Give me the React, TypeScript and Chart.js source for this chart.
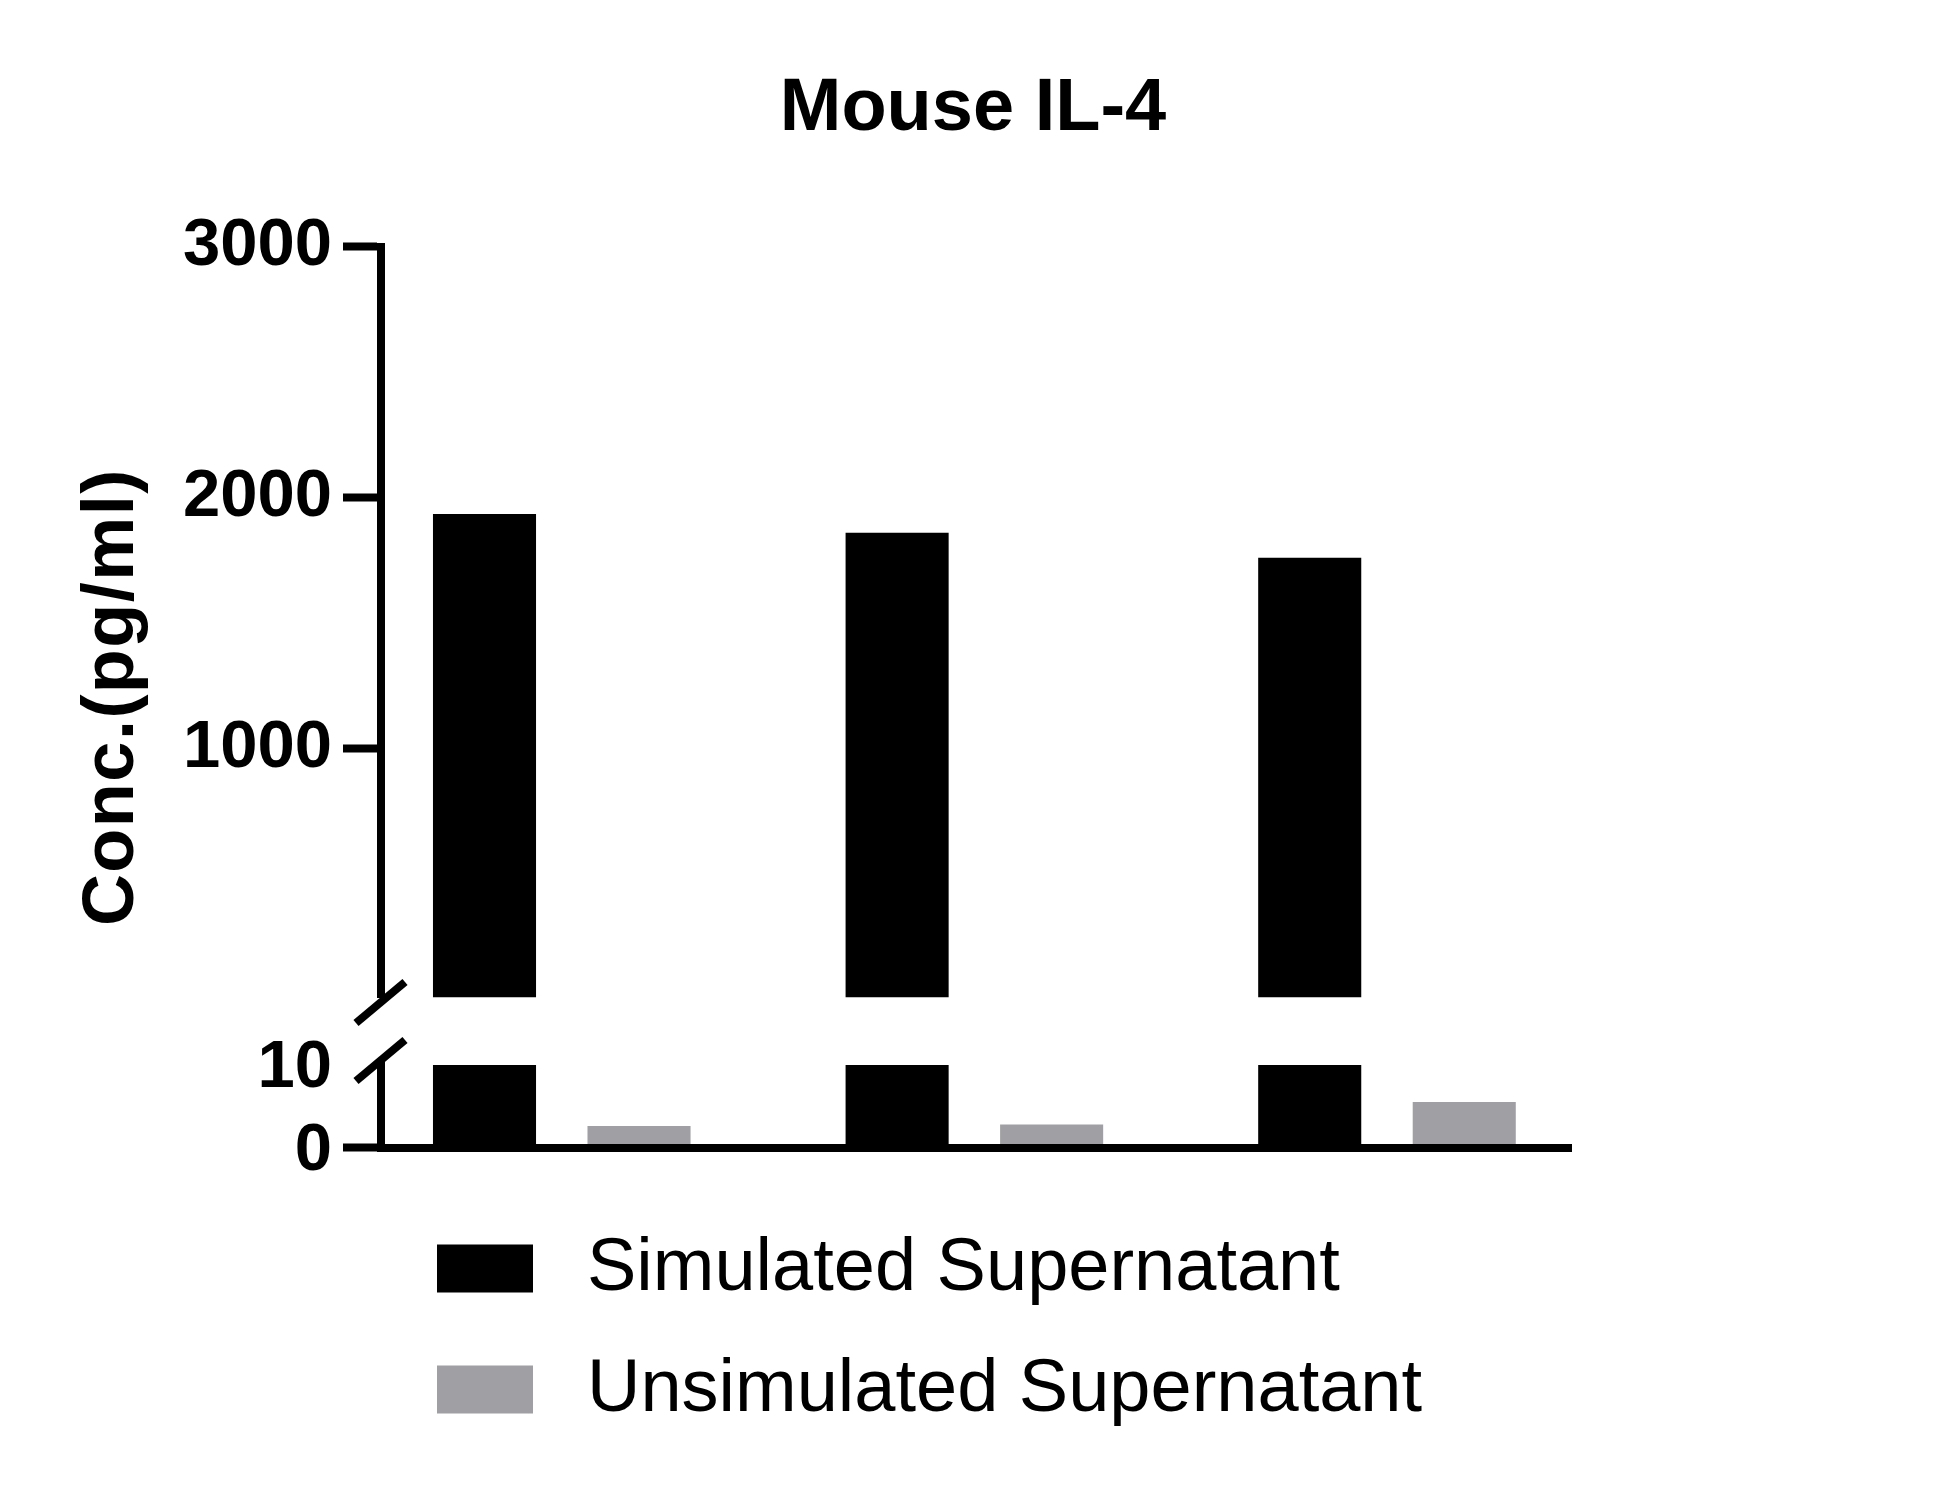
import React, { useEffect, useRef } from 'react';
import { Chart, registerables } from 'chart.js';

Chart.register(...registerables);

const TITLE = 'Mouse IL-4';
const Y_AXIS_TITLE = 'Conc.(pg/ml)';
const CATEGORIES = ['Sample 1', 'Sample 2', 'Sample 3'];
const SERIES = ['Simulated Supernatant', 'Unsimulated Supernatant'];
const SIMULATED = [1936, 1861, 1761];
const UNSIMULATED = [2.6, 2.8, 5.5];
const SERIES_VALUES = [SIMULATED, UNSIMULATED];
const SERIES_COLORS = ['#000000', '#a0a0a4'];
const LOW_SEGMENT = [0, 10];
const HIGH_SEGMENT = [10, 3000];
const LOW_TICKS = [0, 10];
const HIGH_TICKS = [1000, 2000, 3000];

const FONT = '"Liberation Sans", Arial, Helvetica, sans-serif';

const brokenAxisPlugin = {
  id: 'brokenAxis',
  afterDraw(chart: any, _args: any, opts: any) {
    const { ctx, chartArea } = chart;
    const hi = chart.scales.yHigh;
    const lo = chart.scales.yLow;
    ctx.save();
    // break marks
    ctx.strokeStyle = '#000';
    ctx.lineWidth = opts.breakWidth;
    ctx.lineCap = 'butt';
    const centers = [hi.bottom + opts.breakOffsetHigh, lo.top - opts.breakOffsetLow];
    for (const cy of centers) {
      const cx = chartArea.left - 0.5;
      ctx.beginPath();
      ctx.moveTo(cx - opts.breakDx, cy + opts.breakDy);
      ctx.lineTo(cx + opts.breakDx, cy - opts.breakDy);
      ctx.stroke();
    }
    // y axis title centred on the whole broken axis
    ctx.fillStyle = '#000';
    ctx.font = `bold ${opts.yTitleSize}px ${FONT}`;
    try { (ctx as any).letterSpacing = opts.yTitleSpacing; } catch (e) {}
    ctx.textAlign = 'center';
    ctx.textBaseline = 'middle';
    ctx.translate(opts.yTitleX, (chartArea.top + chartArea.bottom) / 2);
    ctx.rotate(-Math.PI / 2);
    ctx.fillText(Y_AXIS_TITLE, 0, 0);
    ctx.restore();

    // legend (vertical list under the plot)
    ctx.save();
    try { (ctx as any).letterSpacing = '0px'; } catch (e) {}
    ctx.font = `${opts.legendSize}px ${FONT}`;
    ctx.textAlign = 'left';
    ctx.textBaseline = 'middle';
    SERIES.forEach((name, i) => {
      const cy = chartArea.bottom + opts.legendFirst + i * opts.legendStep;
      const x0 = chartArea.left + opts.legendIndent;
      ctx.fillStyle = SERIES_COLORS[i];
      ctx.fillRect(x0, cy - opts.boxH / 2, opts.boxW, opts.boxH);
      ctx.fillStyle = '#000';
      ctx.fillText(name, x0 + opts.textGap, cy + 1);
    });
    ctx.restore();
  },
};

function buildDatasets() {
  const ds: any[] = [];
  SERIES.forEach((name, s) => {
    const vals = SERIES_VALUES[s];
    ds.push({
      label: name,
      data: vals.map((v, i) => ({ x: i + 1, y: v > HIGH_SEGMENT[0] ? v : null })),
      yAxisID: 'yHigh',
      stack: 'series' + s,
      base: HIGH_SEGMENT[0],
      backgroundColor: SERIES_COLORS[s],
    });
    ds.push({
      label: name,
      data: vals.map((v, i) => ({ x: i + 1, y: Math.min(v, LOW_SEGMENT[1]) })),
      yAxisID: 'yLow',
      stack: 'series' + s,
      backgroundColor: SERIES_COLORS[s],
    });
  });
  return ds;
}

const tickFont = { family: FONT, size: 67, weight: 'bold' as const };
const plainLabel = (v: any) => String(v);

export default function App() {
  const ref = useRef<HTMLCanvasElement | null>(null);
  useEffect(() => {
    if (!ref.current) return;
    const chart = new Chart(ref.current, {
      type: 'bar',
      data: { datasets: buildDatasets() },
      plugins: [brokenAxisPlugin as any],
      options: {
        animation: false,
        responsive: true,
        maintainAspectRatio: false,
        devicePixelRatio: 1,
        categoryPercentage: 0.749,
        barPercentage: 0.667,
        layout: { padding: { left: 0, right: 0, top: 0, bottom: 340.5 } },
        plugins: {
          legend: { display: false },
          tooltip: { enabled: false },
          title: {
            display: true,
            text: TITLE,
            color: '#000',
            font: { family: FONT, size: 74, weight: 'bold' },
            padding: { top: 57, bottom: 93 },
          },
          brokenAxis: {
            breakWidth: 8,
            breakDx: 24.5,
            breakDy: 20.5,
            breakOffsetHigh: 5,
            breakOffsetLow: 4.5,
            yTitleSize: 72,
            yTitleSpacing: '1.5px',
            yTitleX: 105,
            legendSize: 74,
            legendFirst: 121,
            legendStep: 121,
            legendIndent: 56,
            boxW: 96,
            boxH: 48,
            textGap: 150,
          },
        } as any,
        scales: {
          x: {
            type: 'linear',
            min: 0.5619,
            max: 3.4472,
            offset: false,
            grid: { display: false, drawTicks: false, offset: false },
            ticks: { display: false },
            border: { display: true, color: '#000', width: 8, z: 1 },
            afterBuildTicks: (scale: any) => {
              scale.ticks = CATEGORIES.map((_, i) => ({ value: i + 1 }));
            },
          },
          yHigh: {
            axis: 'y',
            type: 'linear',
            position: 'left',
            stack: 'broken',
            stackWeight: 750.5,
            weight: 3,
            stacked: false,
            beginAtZero: false,
            min: HIGH_SEGMENT[0],
            max: HIGH_SEGMENT[1],
            afterBuildTicks: (scale: any) => {
              scale.ticks = HIGH_TICKS.map((v) => ({ value: v }));
            },
            afterFit: (scale: any) => { scale.width = 373; },
            grid: { drawOnChartArea: false, drawTicks: true, tickLength: 38, tickWidth: 8, tickColor: '#000' },
            border: { display: true, color: '#000', width: 8, z: 1 },
            ticks: { color: '#000', font: tickFont, padding: 11, autoSkip: false, callback: plainLabel },
          },
          yGap: {
            axis: 'y',
            type: 'linear',
            position: 'left',
            stack: 'broken',
            stackWeight: 67.5,
            weight: 2,
            display: false,
            min: 0,
            max: 1,
          },
          yLow: {
            axis: 'y',
            type: 'linear',
            position: 'left',
            stack: 'broken',
            stackWeight: 82.5,
            weight: 1,
            stacked: false,
            min: LOW_SEGMENT[0],
            max: LOW_SEGMENT[1],
            afterBuildTicks: (scale: any) => {
              scale.ticks = LOW_TICKS.map((v) => ({ value: v }));
            },
            afterFit: (scale: any) => { scale.width = 373; },
            grid: {
              drawOnChartArea: false,
              drawTicks: true,
              tickLength: 38,
              tickWidth: 8,
              tickColor: (c: any) => (c.tick && c.tick.value === 0 ? '#000' : 'rgba(0,0,0,0)'),
            },
            border: { display: true, color: '#000', width: 8, z: 1 },
            ticks: { color: '#000', font: tickFont, padding: 11, labelOffset: 4, autoSkip: false, callback: plainLabel },
          },
          rightSpace: {
            axis: 'y',
            type: 'linear',
            position: 'right',
            display: true,
            min: 0,
            max: 1,
            grid: { display: false, drawTicks: false },
            border: { display: false },
            ticks: { display: false },
            afterFit: (scale: any) => { scale.width = 366.5; },
          },
        } as any,
      },
    });
    return () => chart.destroy();
  }, []);

  return (
    <div style={{ width: 1930, height: 1480, position: 'relative', background: '#fff' }}>
      <canvas ref={ref} />
    </div>
  );
}
